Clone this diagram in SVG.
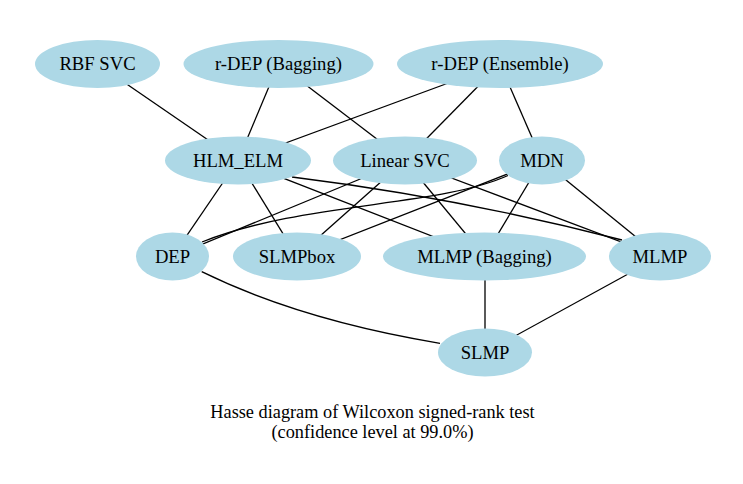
<svg xmlns="http://www.w3.org/2000/svg" width="743" height="484" viewBox="0 0 743 484">
<style>
.n ellipse{fill:#add8e6;stroke:none}
.n text,.cap{font-family:"Liberation Serif","Times New Roman",serif;font-size:18.67px;fill:#000;text-anchor:middle}
.cap{font-size:18.3px}
#edges line,#edges path{stroke:#000;stroke-width:1.3;fill:none}
</style>
<rect width="743" height="484" fill="#fff"/>
<g id="edges">
<line x1="97.5" y1="64" x2="238" y2="160.5"/>
<line x1="278.5" y1="64" x2="238" y2="160.5"/>
<line x1="278.5" y1="64" x2="405" y2="160.5"/>
<line x1="500" y1="64" x2="238" y2="160.5"/>
<line x1="500" y1="64" x2="405" y2="160.5"/>
<line x1="500" y1="64" x2="542" y2="160.5"/>
<line x1="238" y1="160.5" x2="172.5" y2="256.5"/>
<line x1="238" y1="160.5" x2="297" y2="256.5"/>
<line x1="238" y1="160.5" x2="484.5" y2="256.5"/>
<path d="M292,177 Q457,197.5 622,240"/>
<line x1="405" y1="160.5" x2="172.5" y2="256.5"/>
<line x1="405" y1="160.5" x2="297" y2="256.5"/>
<line x1="405" y1="160.5" x2="484.5" y2="256.5"/>
<line x1="405" y1="160.5" x2="660" y2="256.5"/>
<path d="M202,242 C302,202 438,207 508,175.5"/>
<line x1="542" y1="160.5" x2="297" y2="256.5"/>
<line x1="542" y1="160.5" x2="484.5" y2="256.5"/>
<line x1="542" y1="160.5" x2="660" y2="256.5"/>
<path d="M201.7,271.7 Q300,320 440,343.3"/>
<line x1="485" y1="256.5" x2="485" y2="352.5"/>
<line x1="660" y1="256.5" x2="485" y2="352.5"/>
</g>
<g id="n-rbfsvc" class="n"><ellipse cx="97.5" cy="64" rx="62.5" ry="24"/><text x="97.5" y="70">RBF SVC</text></g>
<g id="n-rdep-bagging" class="n"><ellipse cx="278.5" cy="64" rx="95" ry="24"/><text x="278.5" y="70">r-DEP (Bagging)</text></g>
<g id="n-rdep-ensemble" class="n"><ellipse cx="500" cy="64" rx="103" ry="24"/><text x="500" y="70">r-DEP (Ensemble)</text></g>
<g id="n-hlmelm" class="n"><ellipse cx="238" cy="160.5" rx="73" ry="24"/><text x="238" y="166.5">HLM_ELM</text></g>
<g id="n-linearsvc" class="n"><ellipse cx="405" cy="160.5" rx="72" ry="24"/><text x="405" y="166.5">Linear SVC</text></g>
<g id="n-mdn" class="n"><ellipse cx="542" cy="160.5" rx="43" ry="24"/><text x="542" y="166.5">MDN</text></g>
<g id="n-dep" class="n"><ellipse cx="172.5" cy="256.5" rx="36.5" ry="24"/><text x="172.5" y="262.5">DEP</text></g>
<g id="n-slmpbox" class="n"><ellipse cx="297" cy="256.5" rx="64" ry="24"/><text x="297" y="262.5">SLMPbox</text></g>
<g id="n-mlmp-bagging" class="n"><ellipse cx="484.5" cy="256.5" rx="101.5" ry="24"/><text x="484.5" y="262.5">MLMP (Bagging)</text></g>
<g id="n-mlmp" class="n"><ellipse cx="660" cy="256.5" rx="51" ry="24"/><text x="660" y="262.5">MLMP</text></g>
<g id="n-slmp" class="n"><ellipse cx="485" cy="352.5" rx="47" ry="24"/><text x="485" y="358.5">SLMP</text></g>
<g id="caption">
<text class="cap" x="372.5" y="418">Hasse diagram of Wilcoxon signed-rank test</text>
<text class="cap" x="372.5" y="438">(confidence level at 99.0%)</text>
</g>
</svg>
